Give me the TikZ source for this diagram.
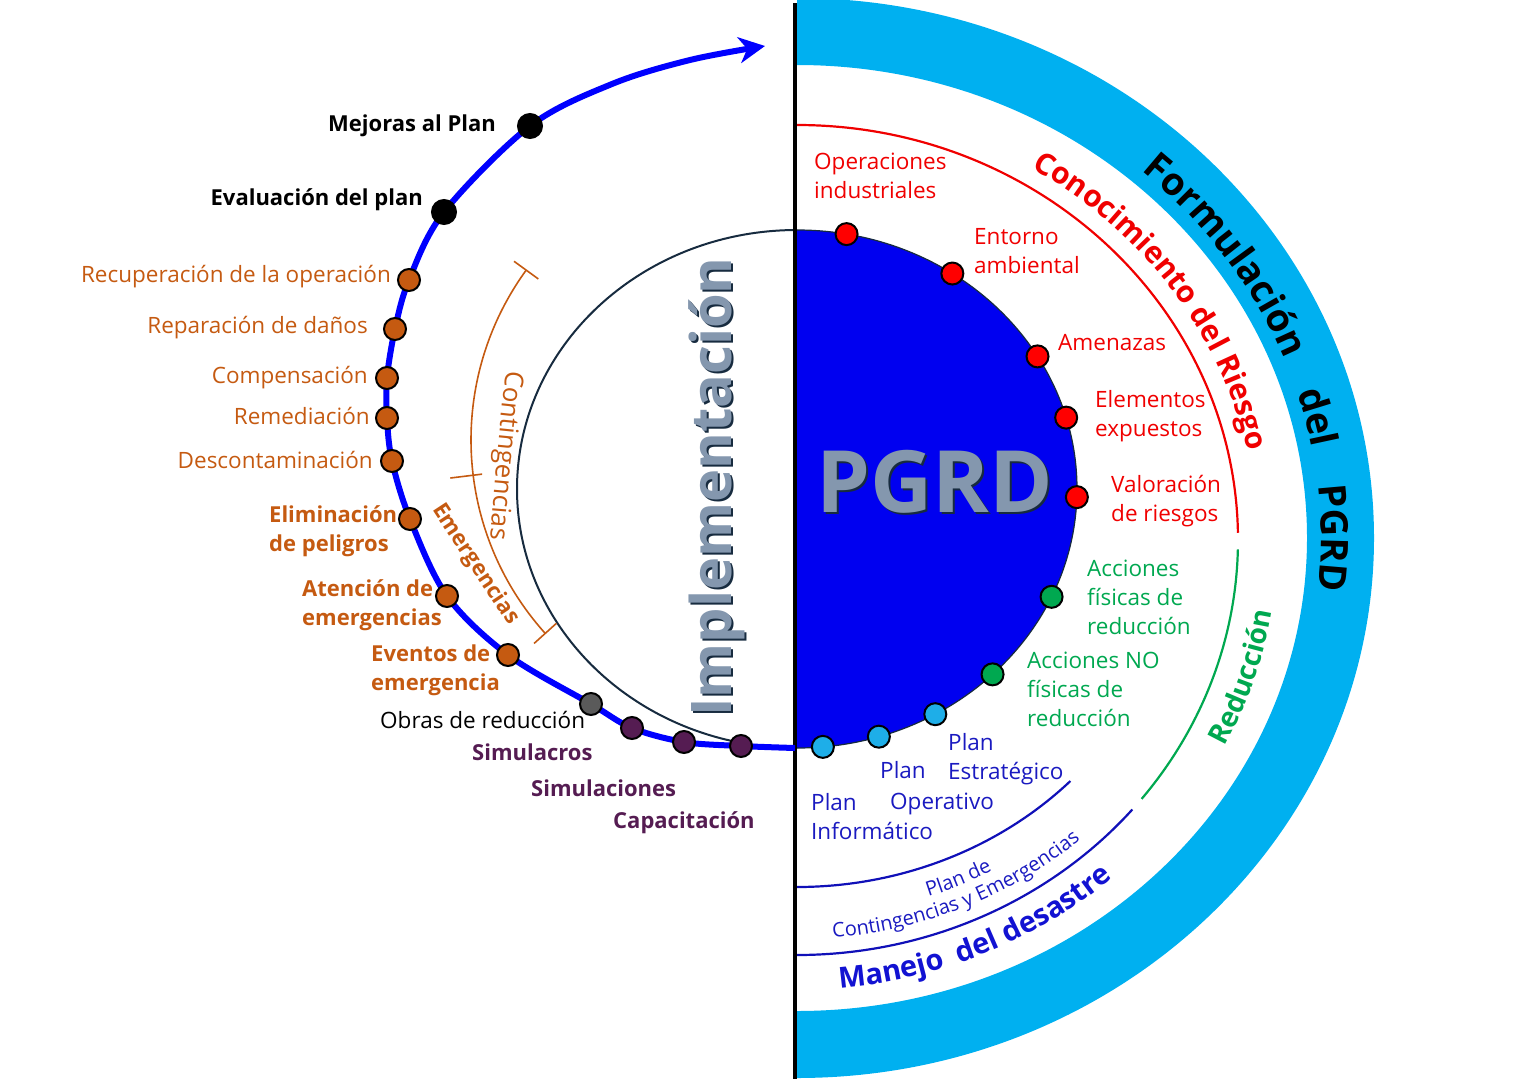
\documentclass[tikz,border=0pt]{standalone}
\usepackage{fontspec}
\setmainfont{Open Sans}
\usetikzlibrary{decorations.text,arrows.meta,calc}
\definecolor{cyanband}{HTML}{00B0F0}
\definecolor{diskblue}{HTML}{0000F0}
\definecolor{orng}{HTML}{C55A11}
\definecolor{purp}{HTML}{551C52}
\definecolor{redt}{HTML}{F00000}
\definecolor{grn}{HTML}{00A850}
\definecolor{bluet}{HTML}{1A1AC0}
\definecolor{bluebold}{HTML}{1212D2}
\definecolor{bluearcc}{HTML}{1010B8}
\definecolor{ltblue}{HTML}{1EAEE8}
\definecolor{hatchc}{HTML}{8497AE}
\definecolor{outl}{HTML}{172B3F}
\definecolor{grayd}{HTML}{5A5A5A}
\begin{document}
\begin{tikzpicture}[x=1pt,y=-1pt,
  lbl/.style={font=\fontsize{22.5}{29}\selectfont, inner sep=0pt, align=left},
  blbl/.style={font=\fontsize{22}{29}\selectfont\bfseries, inner sep=0pt, align=left},
  dotc/.style={draw=black, line width=2pt},
  arctext/.style={decorate, decoration={text along path, text align=center, text={#1}}}
]
\useasboundingbox (0,0) rectangle (1526,1079);
\coordinate (B) at (797,538);
\coordinate (R) at (797,540);
\coordinate (D) at (797,489);
\coordinate (O) at (760,440);
% outer cyan band
\fill[cyanband] (797,-2) arc[start angle=-90,end angle=90,x radius=577,y radius=540]
  -- (797,1011) arc[start angle=90,end angle=-90,x radius=510,y radius=473] -- cycle;
% inner arcs
\draw[redt, line width=2.2pt] ($(R)+(-90:441 and 415)$) arc[start angle=-90,end angle=-1,x radius=441,y radius=415];
\draw[grn, line width=2.2pt] ($(R)+(1.3:441 and 415)$) arc[start angle=1.3,end angle=38.6,x radius=441,y radius=415];
\draw[bluearcc, line width=2.2pt] ($(R)+(40.5:441 and 415)$) arc[start angle=40.5,end angle=90,x radius=441,y radius=415];
\draw[bluearcc, line width=2.2pt] ($(R)+(44:380 and 347)$) arc[start angle=44,end angle=90,x radius=380,y radius=347];
% disk
\fill[diskblue] (797,230) arc[start angle=-90,end angle=90,x radius=280,y radius=259] -- cycle;
\draw[outl, line width=1.2pt] (797,230) arc[start angle=-90,end angle=90,x radius=280,y radius=259];
\draw[outl, line width=2pt] (797,230) arc[start angle=-90,end angle=-270,x radius=280,y radius=259];
% orange brackets
\draw[orng, line width=1.6pt] ($(O)+(216:289)$) arc[start angle=216,end angle=138,radius=289];
\draw[orng, line width=1.6pt] ($(O)+(216:274)$) -- ($(O)+(216:304)$);
\draw[orng, line width=1.6pt] ($(O)+(173:280)$) -- ($(O)+(173:312)$);
\draw[orng, line width=1.6pt] ($(O)+(138:274)$) -- ($(O)+(138:304)$);
% vertical divider
\draw[black, line width=4pt] (795,3) -- (795,1079);
% left cycle arrow
\draw[blue, line width=6pt, -{Stealth[length=26pt,width=26pt,inset=8pt]}]
  plot[smooth, tension=0.55] coordinates {(795,748) (741,746) (684,742) (632,728) (591,704) (508,655) (447,596) (410,519) (392,461) (387,418) (387,378) (395,329) (409,280) (444,212) (530,126) (612,84) (690,60) (765,46)};
% dots on left arc
\filldraw[dotc, fill=black] (530,126) circle[radius=12];
\filldraw[dotc, fill=black] (444,212) circle[radius=12];
\foreach \p in {(409,280),(395,329),(387,378),(387,418),(392,461),(410,519),(447,596),(508,655)}
  \filldraw[dotc, fill=orng] \p circle[radius=11];
\filldraw[dotc, fill=grayd] (591,704) circle[radius=11];
\foreach \p in {(632,728),(684,742),(741,746)}
  \filldraw[dotc, fill=purp] \p circle[radius=11];
% dots on disk
\foreach \a in {-79.8,-56.3,-30.8,-16,1.8}
  \filldraw[dotc, fill=red] ($(D)+(\a:280 and 259)$) circle[radius=11];
\foreach \a in {24.6,45.7}
  \filldraw[dotc, fill=grn] ($(D)+(\a:280 and 259)$) circle[radius=11];
\foreach \a in {60.4,73,84.7}
  \filldraw[dotc, fill=ltblue] ($(D)+(\a:280 and 259)$) circle[radius=11];
% big hatched-look words
\node[font=\fontsize{86}{86}\selectfont\bfseries, text=outl, anchor=base] at (937,514) {PGRD};
\node[font=\fontsize{86}{86}\selectfont\bfseries, text=hatchc, anchor=base] (pgrd) at (935,512) {PGRD};
\node[font=\fontsize{56}{56}\selectfont\bfseries, text=outl, rotate=90, anchor=base] at (733,489) {Implementación};
\node[font=\fontsize{56}{56}\selectfont\bfseries, text=hatchc, rotate=90, anchor=base] (impl) at (731,487) {Implementación};
% left labels
\node[blbl, anchor=base east] (mejoras) at (496,131) {Mejoras al Plan};
\node[blbl, anchor=base east] (evalua) at (423,205) {Evaluación del plan};
\node[lbl, text=orng, anchor=base east] (recup) at (391,282) {Recuperación de la operación};
\node[lbl, text=orng, anchor=base east] (repar) at (368,333) {Reparación de daños};
\node[lbl, text=orng, anchor=base east] (compen) at (368,383) {Compensación};
\node[lbl, text=orng, anchor=base east] (remed) at (370,424) {Remediación};
\node[lbl, text=orng, anchor=base east] (descon) at (373,468) {Descontaminación};
\node[blbl, text=orng, anchor=base west] (elim) at (269,551) {Eliminación\\de peligros};
\node[blbl, text=orng, anchor=base west] (atenc) at (302,625) {Atención de\\emergencias};
\node[blbl, text=orng, anchor=base west] (event) at (371,690) {Eventos de\\emergencia};
\node[lbl, anchor=base west] (obras) at (380,728) {Obras de reducción};
\node[blbl, text=purp, anchor=base west] (simc) at (472,760) {Simulacros};
\node[blbl, text=purp, anchor=base west] (simn) at (531,796) {Simulaciones};
\node[blbl, text=purp, anchor=base west] (capa) at (613,828) {Capacitación};
% right labels
\node[lbl, text=redt, anchor=base west] (opind) at (814,198) {Operaciones\\industriales};
\node[lbl, text=redt, anchor=base west] (entor) at (974,273) {Entorno\\ambiental};
\node[lbl, text=redt, anchor=base west] (amen) at (1058,350) {Amenazas};
\node[lbl, text=redt, anchor=base west] (elem) at (1095,436) {Elementos\\expuestos};
\node[lbl, text=redt, anchor=base west] (valor) at (1111,521) {Valoración\\de riesgos};
\node[lbl, text=grn, anchor=base west] (accf) at (1087,634) {Acciones\\físicas de\\reducción};
\node[lbl, text=grn, anchor=base west] (accnf) at (1027,726) {Acciones NO\\físicas de\\reducción};
\node[lbl, text=bluet, anchor=base west] (pest) at (948,779) {Plan\\Estratégico};
\node[lbl, text=bluet, anchor=base west] (popl) at (880,778) {Plan};
\node[lbl, text=bluet, anchor=base west] (popo) at (890,809) {Operativo};
\node[lbl, text=bluet, anchor=base west] (pinf) at (811,839) {Plan\\Informático};
% curved texts
\path[arctext={|\fontsize{38}{38}\selectfont\bfseries|Formulación}] ($(B)+(-60:524 and 487)$) arc[start angle=-60,end angle=-10,x radius=524,y radius=487];
\path[arctext={|\fontsize{38}{38}\selectfont\bfseries|del}] ($(B)+(-24:524 and 487)$) arc[start angle=-24,end angle=-4,x radius=524,y radius=487];
\path[arctext={|\fontsize{38}{38}\selectfont\bfseries|PGRD}] ($(B)+(-12:524 and 487)$) arc[start angle=-12,end angle=12,x radius=524,y radius=487];
\path[arctext={|\fontsize{30}{30}\selectfont\bfseries\color{redt}|Conocimiento del Riesgo}] ($(R)+(-80:460 and 432)$) arc[start angle=-80,end angle=10,x radius=460,y radius=432];
\path[arctext={|\fontsize{28}{28}\selectfont\bfseries\color{grn}|Reducción}] ($(R)+(40:481 and 453)$) arc[start angle=40,end angle=-4,x radius=481,y radius=453];
\path[arctext={|\fontsize{29}{29}\selectfont\bfseries\color{bluebold}|Manejo {\ }del desastre}] ($(R)+(100:478 and 450)$) arc[start angle=100,end angle=33,x radius=478,y radius=450];
\path[arctext={|\fontsize{20}{20}\selectfont\color{bluet}|Plan de}] ($(R)+(90:407 and 377)$) arc[start angle=90,end angle=42,x radius=407,y radius=377];
\path[arctext={|\fontsize{20}{20}\selectfont\color{bluet}|Contingencias y Emergencias}] ($(R)+(105:429 and 399)$) arc[start angle=105,end angle=28,x radius=429,y radius=399];
\path[arctext={|\fontsize{26}{26}\selectfont\color{orng}|Contingencias}] (512,330) .. controls (500,410) and (493,500) .. (487,580);
\path[arctext={|\fontsize{22}{22}\selectfont\bfseries\color{orng}|Emergencias}] (401,461) .. controls (425,500) and (517,637) .. (541,673);
\end{tikzpicture}
\end{document}
